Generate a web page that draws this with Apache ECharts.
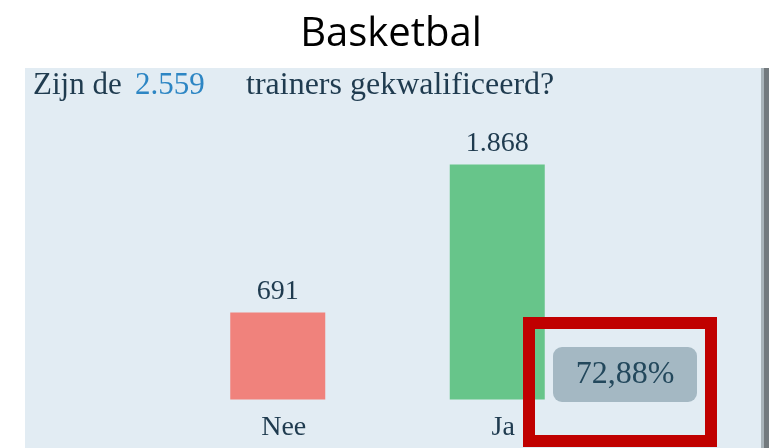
<!DOCTYPE html>
<html>
<head>
<meta charset="utf-8">
<script src="https://cdn.jsdelivr.net/npm/echarts@6/dist/echarts.min.js"></script>
<style>
  html, body { margin: 0; padding: 0; background: #fff; }
  #chart { width: 782px; height: 448px; }
</style>
</head>
<body>
<div id="chart"></div>
<script>
var categories = ['Nee', 'Ja'];
var values = [691, 1868];
var barColors = ['#f0827c', '#67c58a'];
var percentLabel = '72,88%';

var total = values.reduce(function (a, b) { return a + b; }, 0);

// dutch thousands separator
function nl(n) {
  return String(n).replace(/\B(?=(\d{3})+(?!\d))/g, '.');
}

var serif = '"Liberation Serif", "DejaVu Serif", serif';
var ink = '#1f3b4f';

var chart = echarts.init(document.getElementById('chart'));

var option = {
  backgroundColor: '#ffffff',
  animation: false,
  title: {
    text: 'Basketbal',
    left: 'center',
    top: 10,
    textStyle: {
      fontFamily: '"Open Sans", "Noto Sans", sans-serif',
      fontWeight: 'normal',
      fontSize: 40,
      color: '#000'
    }
  },
  graphic: [
    // panel
    { type: 'rect', z: -10, shape: { x: 25, y: 68, width: 737, height: 380 }, style: { fill: '#e2ecf3' } },
    { type: 'rect', z: -9, shape: { x: 761, y: 68, width: 3, height: 380 }, style: { fill: '#a9b4ba' } },
    { type: 'rect', z: -9, shape: { x: 764, y: 68, width: 5, height: 380 }, style: { fill: '#737a7e' } },
    // question
    { type: 'text', x: 33, y: 86, style: { text: 'Zijn de', font: '31px ' + serif, fill: ink, verticalAlign: 'middle' } },
    { type: 'text', x: 135, y: 86, style: { text: nl(total), font: '31px ' + serif, fill: '#2d86c4', verticalAlign: 'middle' } },
    { type: 'text', x: 246, y: 86, style: { text: 'trainers gekwalificeerd?', font: '32px ' + serif, fill: ink, verticalAlign: 'middle' } },
    // percentage badge
    { type: 'rect', z: 5, shape: { x: 553, y: 347, width: 144, height: 55, r: 9 }, style: { fill: '#a4b8c3' } },
    { type: 'text', z: 6, x: 625, y: 375, style: { text: percentLabel, font: '32px ' + serif, fill: '#23485c', align: 'center', verticalAlign: 'middle' } },
    // red highlight frame
    { type: 'rect', z: 7, shape: { x: 529, y: 323, width: 182, height: 118 }, style: { fill: 'none', stroke: '#c00000', lineWidth: 12 } }
  ],
  grid: {
    left: 168,
    width: 439,
    top: 148,
    bottom: 48.5
  },
  xAxis: {
    type: 'category',
    data: categories,
    axisLine: { show: false },
    axisTick: { show: false },
    axisLabel: {
      margin: 14,
      fontFamily: serif,
      fontSize: 28,
      color: ink,
      padding: [0, 0, 0, 12]
    }
  },
  yAxis: {
    type: 'value',
    min: 0,
    max: 2000,
    show: false,
    splitLine: { show: false }
  },
  series: [{
    type: 'bar',
    barWidth: 95,
    data: values.map(function (v, i) {
      return { value: v, itemStyle: { color: barColors[i] } };
    }),
    label: {
      show: true,
      position: 'top',
      distance: 7,
      fontFamily: serif,
      fontSize: 28,
      color: ink,
      formatter: function (p) { return nl(p.value); }
    }
  }]
};

chart.setOption(option);
</script>
</body>
</html>
